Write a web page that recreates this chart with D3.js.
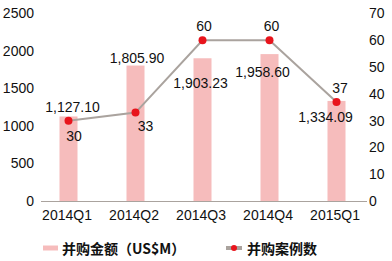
<!DOCTYPE html>
<html><head><meta charset="utf-8">
<script src="https://cdn.jsdelivr.net/npm/d3@7/dist/d3.min.js"></script>
<style>body{margin:0;background:#fff}svg{display:block;font-family:"Liberation Sans",Arial,sans-serif}</style>
</head><body><svg id="c" width="392" height="261"></svg>
<script>
const categories = ["2014Q1","2014Q2","2014Q3","2014Q4","2015Q1"];
const amounts = [1127.10, 1805.90, 1903.23, 1958.60, 1334.09];
const counts = [30, 33, 60, 60, 37];
const amountLabels = ["1,127.10","1,805.90","1,903.23","1,958.60","1,334.09"];
const leftTicks = [0,500,1000,1500,2000,2500];
const rightTicks = [0,10,20,30,40,50,60,70];
const legendNames = ["并购金额（US$M）","并购案例数"];

const svg = d3.select("#c");
const x = d3.scaleBand().domain(categories).range([35,370]).paddingInner(0).paddingOuter(0);
const yL = d3.scaleLinear().domain([0,2500]).range([201,13.5]);
const yR = d3.scaleLinear().domain([0,70]).range([201,13.5]);
const bw = 18;
const fs = 14;
const FF = "Liberation Sans, Arial, sans-serif";

// bars
svg.selectAll("rect.bar").data(amounts).join("rect")
  .attr("x",(d,i)=>x(categories[i])+x.bandwidth()/2-bw/2)
  .attr("y",d=>yL(d)).attr("width",bw).attr("height",d=>yL(0)-yL(d))
  .attr("fill","#f6bcbc");

// axis line
svg.append("line").attr("x1",41).attr("x2",367).attr("y1",201.5).attr("y2",201.5)
  .attr("stroke","#aaa39e").attr("stroke-width",1);

// left axis labels
const gl = svg.append("g").attr("transform","translate(34,0)")
  .call(d3.axisLeft(yL).tickValues(leftTicks).tickSize(0).tickPadding(0).tickFormat(d3.format("d")));
gl.select(".domain").remove();
gl.selectAll("text").attr("font-size",fs).attr("font-family",FF).attr("fill","#111");

// right axis labels
const gr = svg.append("g").attr("transform","translate(369,0)")
  .call(d3.axisRight(yR).tickValues(rightTicks).tickSize(0).tickPadding(0).tickFormat(d3.format("d")));
gr.select(".domain").remove();
gr.selectAll("text").attr("font-size",fs).attr("font-family",FF).attr("fill","#111");

// x labels
const gx = svg.append("g").attr("transform","translate(-1.5,210)")
  .call(d3.axisBottom(x).tickSize(0).tickPadding(0));
gx.select(".domain").remove();
gx.selectAll("text").attr("font-size",fs).attr("font-family",FF).attr("fill","#111");

// line
const cx = i => x(categories[i])+x.bandwidth()/2;
svg.append("path").datum(counts)
  .attr("d",d3.line().x((d,i)=>cx(i)).y(d=>yR(d)))
  .attr("fill","none").attr("stroke","#aaa39e").attr("stroke-width",2);
svg.selectAll("circle.pt").data(counts).join("circle")
  .attr("cx",(d,i)=>cx(i)).attr("cy",d=>yR(d)).attr("r",4).attr("fill","#e8141c");

// amount labels (offsets per label placement)
const aOff = [[4,-9],[1.5,-8],[-2,25],[-7,18],[-11,16]];
svg.selectAll("text.al").data(amounts).join("text")
  .attr("x",(d,i)=>cx(i)+aOff[i][0]).attr("y",(d,i)=>yL(d)+aOff[i][1])
  .attr("text-anchor","middle").attr("dominant-baseline","central")
  .attr("font-size",fs).attr("font-family",FF).attr("fill","#111").text((d,i)=>amountLabels[i]);

// count labels
const cOff = [[5.5,15.5],[10,13],[1.5,-14],[2,-14],[3.5,-14]];
svg.selectAll("text.cl").data(counts).join("text")
  .attr("x",(d,i)=>cx(i)+cOff[i][0]).attr("y",(d,i)=>yR(d)+cOff[i][1])
  .attr("text-anchor","middle").attr("dominant-baseline","central")
  .attr("font-size",fs).attr("font-family",FF).attr("fill","#111").text(d=>d);

// legend
svg.append("line").attr("x1",43).attr("x2",58).attr("y1",248).attr("y2",248).attr("stroke","#f6bcbc").attr("stroke-width",5);
svg.append("text").attr("x",62).attr("y",248).attr("dominant-baseline","central")
  .attr("font-size",fs).attr("font-weight","bold").attr("font-family","Noto Sans CJK SC").attr("fill","#111").text(legendNames[0]);
svg.append("line").attr("x1",226).attr("x2",242).attr("y1",248).attr("y2",248).attr("stroke","#aaa39e").attr("stroke-width",4);
svg.append("circle").attr("cx",234).attr("cy",248).attr("r",3).attr("fill","#e8141c");
svg.append("text").attr("x",247).attr("y",248).attr("dominant-baseline","central")
  .attr("font-size",fs).attr("font-weight","bold").attr("font-family","Noto Sans CJK SC").attr("fill","#111").text(legendNames[1]);
</script></body></html>
